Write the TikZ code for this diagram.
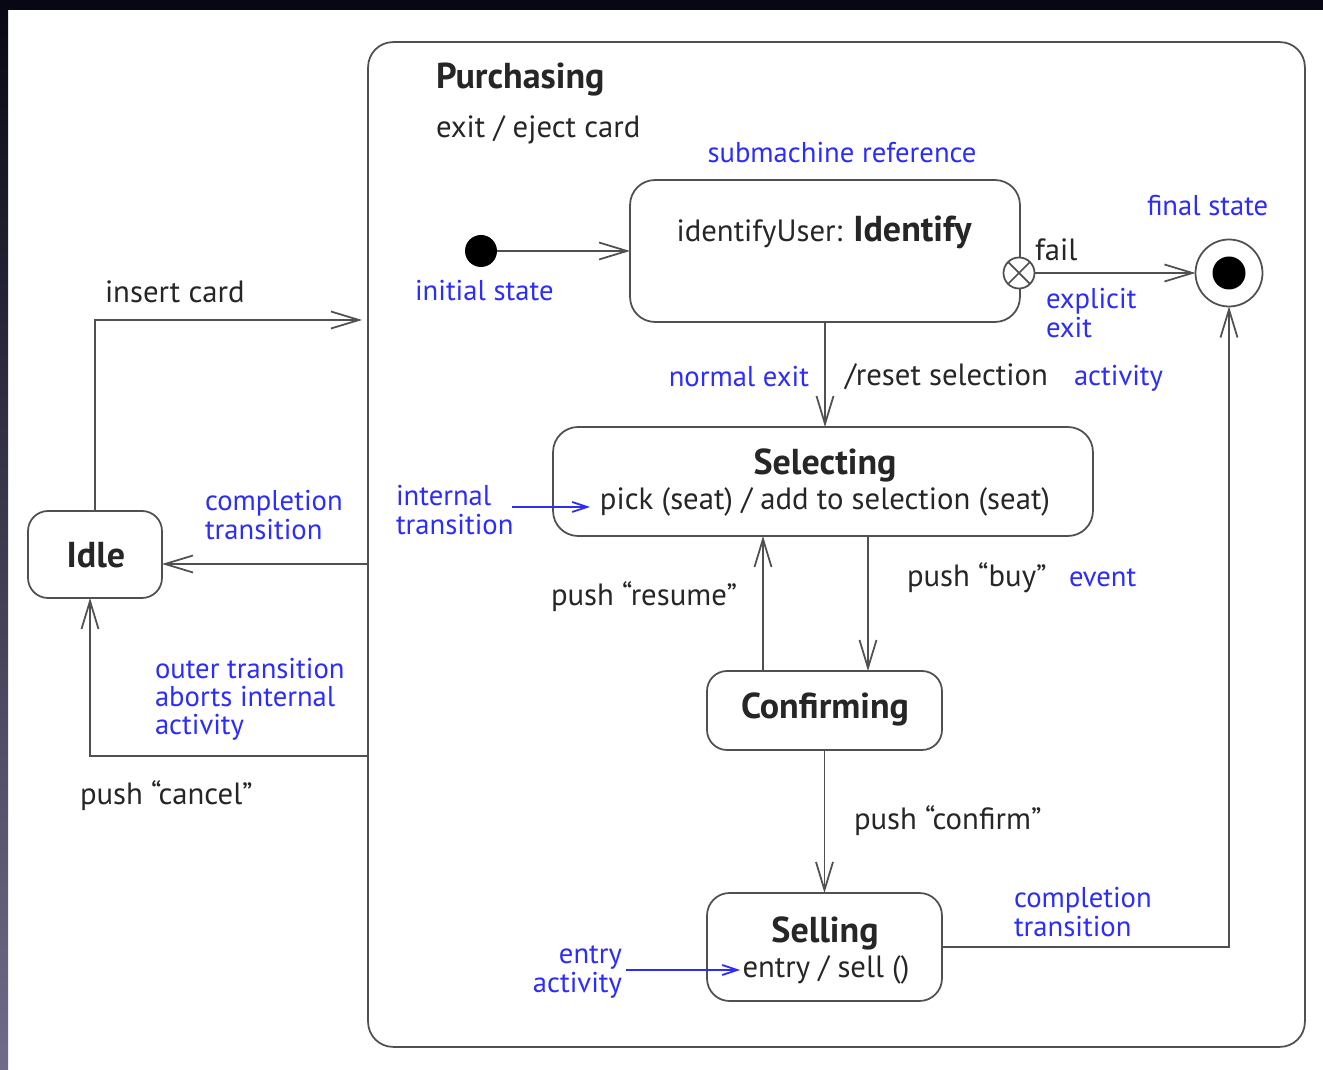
\documentclass[tikz,border=0pt]{standalone}
\usepackage{fontspec}
\setmainfont{PT Sans}
\usetikzlibrary{arrows.meta}
\definecolor{linec}{RGB}{80,80,80}
\definecolor{note}{RGB}{45,45,250}
\definecolor{bandtop}{RGB}{8,8,20}
\definecolor{bandbot}{RGB}{112,108,136}
\begin{document}
\begin{tikzpicture}[x=0.02cm,y=-0.02cm,
  every node/.style={inner sep=0pt, outer sep=0pt},
  txt/.style={font=\fontsize{17.5}{20}\selectfont, text=black!85},
  ttl/.style={font=\fontsize{20.5}{23}\selectfont\bfseries, text=black!85},
  blu/.style={font=\fontsize{16.3}{16}\selectfont, text=note},
  sbox/.style={draw=linec, line width=1pt, rounded corners=0.5cm},
  arr/.style={draw=linec, line width=1pt, -{Straight Barb[length=0.56cm,width=0.34cm]}},
  barr/.style={draw=note, line width=1pt, -{Straight Barb[length=0.3cm,width=0.2cm]}}]
\useasboundingbox (0,0) rectangle (1323,1070);
\fill[white] (0,0) rectangle (1323,1070);
% dark frame at the top and the left edge
\fill[bandtop] (0,0) rectangle (1323,10);
\shade[top color=bandtop, bottom color=bandbot] (0,0) rectangle (8,1070);

% composite state and its substates
\node[sbox, minimum width=18.74cm, minimum height=20.1cm] (purch) at (836.5,544.5) {};
\node[sbox, minimum width=7.8cm, minimum height=2.84cm] (identify) at (825,251) {};
\node[sbox, minimum width=10.8cm, minimum height=2.18cm] (selecting) at (823,481.5) {};
\node[sbox, rounded corners=0.4cm, minimum width=2.68cm, minimum height=1.74cm] (idle) at (95,554.5) {};
\node[sbox, rounded corners=0.4cm, minimum width=4.7cm, minimum height=1.58cm] (confirming) at (824.5,710.5) {};
\node[sbox, rounded corners=0.45cm, minimum width=4.7cm, minimum height=2.16cm] (selling) at (824.5,947) {};

% pseudo states
\node[circle, fill=black, minimum size=0.64cm] (init) at (481,251) {};
\node[circle, draw=linec, line width=1pt, fill=white, minimum size=0.62cm,
  path picture={\draw[linec, line width=1pt]
    (path picture bounding box.north west) -- (path picture bounding box.south east)
    (path picture bounding box.south west) -- (path picture bounding box.north east);}] (xp) at (1019,273) {};
\node[circle, draw=linec, line width=1pt, minimum size=1.34cm] (final) at (1229,273) {};
\node[circle, fill=black, minimum size=0.66cm] (finaldot) at (1229,273) {};

% texts of the states
\node[ttl, anchor=west] (tpurch) at (436,80) {Purchasing};
\node[txt, anchor=west] (texit) at (436,130) {exit / eject card};
\node[txt] (tident) at (824,232) {identifyUser: {\fontsize{20.5}{23}\selectfont\bfseries Identify}};
\node[ttl] (tsel) at (825,465) {Selecting};
\node[txt] (tpick) at (825,502) {pick (seat) / add to selection (seat)};
\node[ttl] (tidle) at (96,555) {Idle};
\node[ttl] (tconf) at (825,709) {Confirming};
\node[ttl] (tsell) at (825,933) {Selling};
\node[txt] (tentry) at (826,970) {entry / sell ()};

% transition labels
\node[txt, anchor=west] (lfail) at (1035,250) {fail};
\node[txt, anchor=west] (linsert) at (105,292) {insert card};
\node[txt, anchor=west] (lreset) at (845,377) {/reset selection};
\node[txt, anchor=west] (lbuy) at (907,578) {push “buy”};
\node[txt, anchor=west] (lresume) at (551,597) {push “resume”};
\node[txt, anchor=west] (lconfirm) at (854,821) {push “confirm”};
\node[txt, anchor=west] (lcancel) at (80,796) {push “cancel”};

% annotations
\node[blu] (nsub) at (842,153) {submachine reference};
\node[blu, anchor=west] (nfinal) at (1147,206) {final state};
\node[blu, anchor=west, align=left] (nexplicit) at (1046,313) {explicit\\exit};
\node[blu, anchor=west] (ninit) at (415,291) {initial state};
\node[blu, anchor=east] (nnormal) at (809,377) {normal exit};
\node[blu, anchor=west] (nactivity) at (1074,378) {activity};
\node[blu, anchor=west, align=left] (ninternal) at (396,510) {internal\\transition};
\node[blu, anchor=west, align=left] (ncompl) at (205,515) {completion\\transition};
\node[blu, anchor=west, align=left] (nouter) at (155,699) {outer transition\\aborts internal\\activity};
\node[blu, anchor=west] (nevent) at (1069,578) {event};
\node[blu, anchor=east, align=right] (nentry) at (622,972) {entry\\activity};
\node[blu, anchor=west, align=left] (ncompl2) at (1014,912) {completion\\transition};

% helper points
\coordinate (icend) at (362,320);
\coordinate (ycompl) at (0,564);
\coordinate (ycancel) at (0,756);
\coordinate (xbuy) at (868,0);
\coordinate (xresume) at (763,0);
\coordinate (intA) at (512,507);
\coordinate (intB) at (590,507);
\coordinate (entA) at (626,970);
\coordinate (entB) at (740,970);

% transitions
\draw[arr] (init) -- (identify.west);
\draw[arr] (xp) -- (final);
\draw[arr] (identify.south) -- (identify.south |- selecting.north);
\draw[arr] (selecting.south -| xbuy) -- (confirming.north -| xbuy);
\draw[arr] (confirming.north -| xresume) -- (selecting.south -| xresume);
\draw[arr] (confirming.south) -- (selling.north);
\draw[arr] (selling.east) -| (final.south);
\draw[arr] (idle.north) |- (icend);
\draw[arr] (purch.west |- ycompl) -- (idle.east |- ycompl);
\draw[arr] (purch.west |- ycancel) -| ([xshift=-0.1cm]idle.south);

% annotation pointers
\draw[barr] (intA) -- (intB);
\draw[barr] (entA) -- (entB);
\end{tikzpicture}
\end{document}
